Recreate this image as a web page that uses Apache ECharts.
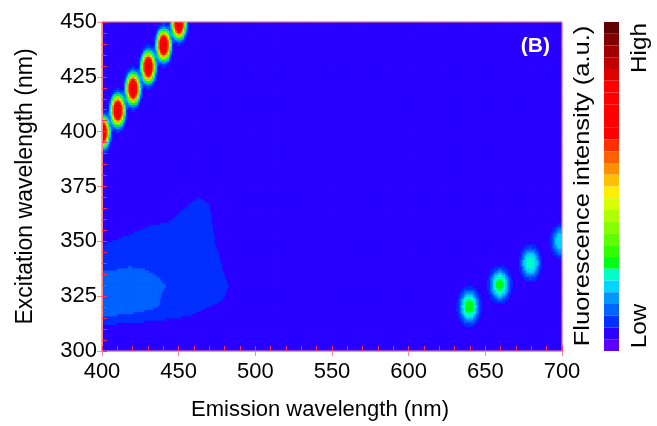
<!DOCTYPE html>
<html>
<head>
<meta charset="utf-8">
<script src="https://cdn.jsdelivr.net/npm/echarts@6/dist/echarts.min.js"></script>
<style>
html, body { margin: 0; padding: 0; background: #fff; }
#chart { width: 657px; height: 426px; }
</style>
</head>
<body>
<div id="chart"></div>
<script>
// axis ticks (nm)
var emissionTicks = [400, 450, 500, 550, 600, 650, 700];
var excitationTicks = [300, 325, 350, 375, 400, 425, 450];

// level of the flat background (band index units)
var backgroundLevel = 1.5;

// Rayleigh scatter spots: [emission, excitation, peak level, spread em, spread ex]
var firstOrderSpots = [
  [400, 400, 23.2, 4.3, 6.5],
  [410, 410, 23.2, 4.3, 6.5],
  [420, 420, 23.2, 4.3, 6.5],
  [430, 430, 23.2, 4.3, 6.5],
  [440, 440, 23.2, 4.3, 6.5],
  [450, 450, 23.2, 4.3, 6.5]
];
var secondOrderSpots = [
  [640, 320, 7.5, 6.2, 7.0],
  [660, 330, 7.3, 6.1, 6.6],
  [680, 340, 6.5, 5.8, 6.6],
  [700, 350, 5.8, 5.7, 6.4]
];

// weak fluorescence region, contour outlines [emission, excitation]
var lowRegionOuter = [
  [399, 348], [414, 352], [431, 357], [444, 359], [452, 364], [457, 367],
  [463, 370.5], [470, 367], [474, 349], [479, 337], [482.5, 329], [479, 323],
  [457, 315.5], [436, 313.5], [410, 312], [399, 311]
];
var lowRegionInner = [
  [399, 336], [410, 337], [418, 338.2], [427, 337.2], [436, 334], [441.7, 329.6],
  [439, 326], [436.7, 319.5], [422.6, 317.2], [410, 316], [399, 315.6]
];
var lowRegionLevels = [2.5, 3.5];

// colour bar bands, bottom (low) to top (high)
var bandColors = [
  '#5c00ff', '#2a00ff', '#0030ff', '#0064ff', '#0098ff', '#00d6ff', '#00ffc6',
  '#00ff14', '#30ff00', '#60ff00', '#88ff00', '#b0ff00', '#d8ff00', '#ffee00',
  '#ffc000', '#ff9000', '#ff6000', '#ff3000', '#ff0000', '#ff0000', '#ff0000',
  '#ff0000', '#ff0000', '#e00000', '#c00000', '#a00000', '#800000', '#600000'
];

// spot profile: exp(-r^SPOT_POWER)
var SPOT_POWER = 3;

function inside(pt, poly) {
  var x = pt[0], y = pt[1], c = false;
  for (var i = 0, j = poly.length - 1; i < poly.length; j = i++) {
    var xi = poly[i][0], yi = poly[i][1], xj = poly[j][0], yj = poly[j][1];
    if ((yi > y) !== (yj > y) && x < (xj - xi) * (y - yi) / (yj - yi) + xi) c = !c;
  }
  return c;
}

function spotValue(em, ex, s) {
  var dx = (em - s[0]) / s[3], dy = (ex - s[1]) / s[4];
  var r = Math.sqrt(dx * dx + dy * dy);
  return (s[2] - backgroundLevel) * Math.exp(-Math.pow(r, SPOT_POWER));
}

var emCats = [], exCats = [];
for (var e = emissionTicks[0]; e <= emissionTicks[emissionTicks.length - 1]; e++) emCats.push(String(e));
for (var e = excitationTicks[0]; e <= excitationTicks[excitationTicks.length - 1]; e++) exCats.push(String(e));

var spots = firstOrderSpots.concat(secondOrderSpots);
var cells = [];
for (var i = 0; i < emCats.length; i++) {
  for (var j = 0; j < exCats.length; j++) {
    var em = +emCats[i], ex = +exCats[j];
    var v = backgroundLevel;
    if (inside([em, ex], lowRegionInner)) v = lowRegionLevels[1];
    else if (inside([em, ex], lowRegionOuter)) v = lowRegionLevels[0];
    for (var k = 0; k < spots.length; k++) v += spotValue(em, ex, spots[k]);
    cells.push([i, j, v]);
  }
}

var pieces = bandColors.map(function (c, k) {
  return { gte: k, lt: k + 1, color: c };
});
pieces[pieces.length - 1] = { gte: bandColors.length - 1, color: bandColors[bandColors.length - 1] };

var font = 'Liberation Sans, Arial, sans-serif';
var pink = '#ff8c8c';
var gridBox = { left: 102, top: 22, width: 460, height: 329 };

var myChart = echarts.init(document.getElementById('chart'));
var option = {
  animation: false,
  backgroundColor: '#fff',
  grid: [
    // plot background in the background band colour hides seams between cells
    Object.assign({ show: true, borderWidth: 0, backgroundColor: bandColors[1] }, gridBox),
    Object.assign({ show: true, borderColor: pink, borderWidth: 1, backgroundColor: 'transparent', z: 10 }, gridBox),
    Object.assign({}, gridBox)
  ],
  xAxis: [
    { type: 'category', gridIndex: 0, data: emCats, show: false },
    {
      type: 'value', gridIndex: 1, z: 12,
      min: emissionTicks[0], max: emissionTicks[emissionTicks.length - 1],
      interval: emissionTicks[1] - emissionTicks[0],
      axisLine: { lineStyle: { color: pink, width: 1 } },
      axisTick: { length: 5, lineStyle: { color: pink } },
      axisLabel: { fontSize: 22, color: '#000', fontFamily: font, margin: 10 },
      splitLine: { show: false },
      name: 'Emission wavelength (nm)', nameLocation: 'middle', nameGap: 48,
      nameTextStyle: { fontSize: 22, color: '#000', fontFamily: font, padding: [0, 24, 0, 0] }
    },
    {
      type: 'value', gridIndex: 2, z: 12, position: 'bottom',
      min: emissionTicks[0], max: emissionTicks[emissionTicks.length - 1], interval: 10,
      axisLine: { show: false },
      axisTick: { inside: true, length: 5, lineStyle: { color: '#f0306a' } },
      axisLabel: { show: false },
      splitLine: { show: false }
    }
  ],
  yAxis: [
    { type: 'category', gridIndex: 0, data: exCats, show: false },
    {
      type: 'value', gridIndex: 1, z: 12,
      min: excitationTicks[0], max: excitationTicks[excitationTicks.length - 1],
      interval: excitationTicks[1] - excitationTicks[0],
      axisLine: { lineStyle: { color: pink, width: 1 } },
      axisTick: { length: 5, lineStyle: { color: pink } },
      axisLabel: { fontSize: 22, color: '#000', fontFamily: font, margin: 5 },
      splitLine: { show: false },
      name: 'Excitation wavelength (nm)', nameLocation: 'middle', nameGap: 65,
      nameTextStyle: { fontSize: 23, color: '#000', fontFamily: font }
    },
    {
      type: 'value', gridIndex: 2, z: 12, position: 'left',
      min: excitationTicks[0], max: excitationTicks[excitationTicks.length - 1], interval: 5,
      axisLine: { show: false },
      axisTick: { inside: true, length: 5, lineStyle: { color: '#f0306a' } },
      axisLabel: { show: false },
      splitLine: { show: false }
    }
  ],
  visualMap: {
    type: 'piecewise',
    seriesIndex: 0,
    orient: 'vertical',
    left: 604, top: 22,
    padding: 0,
    itemWidth: 15,
    itemHeight: 329 / bandColors.length,
    itemGap: 0,
    itemSymbol: 'rect',
    showLabel: false,
    selectedMode: false,
    hoverLink: false,
    pieces: pieces
  },
  graphic: [
    { type: 'text', x: 550, y: 46, style: { text: '(B)', fill: '#fff', font: 'bold 21px ' + font, align: 'right', verticalAlign: 'middle' }, z: 20 },
    { type: 'text', x: 583, y: 186, rotation: Math.PI / 2, scaleX: 1.16, style: { text: 'Fluorescence intensity (a.u.)', fill: '#000', font: '22px ' + font, align: 'center', verticalAlign: 'middle' } },
    { type: 'text', x: 640, y: 48, rotation: Math.PI / 2, scaleX: 1.1, style: { text: 'High', fill: '#000', font: '22px ' + font, align: 'center', verticalAlign: 'middle' } },
    { type: 'text', x: 640, y: 326, rotation: Math.PI / 2, scaleX: 1.1, style: { text: 'Low', fill: '#000', font: '22px ' + font, align: 'center', verticalAlign: 'middle' } }
  ],
  series: [
    {
      type: 'heatmap',
      xAxisIndex: 0, yAxisIndex: 0,
      data: cells,
      progressive: 0,
      silent: true,
      emphasis: { disabled: true },
      itemStyle: { borderWidth: 0 }
    }
  ]
};
myChart.setOption(option);
</script>
</body>
</html>
